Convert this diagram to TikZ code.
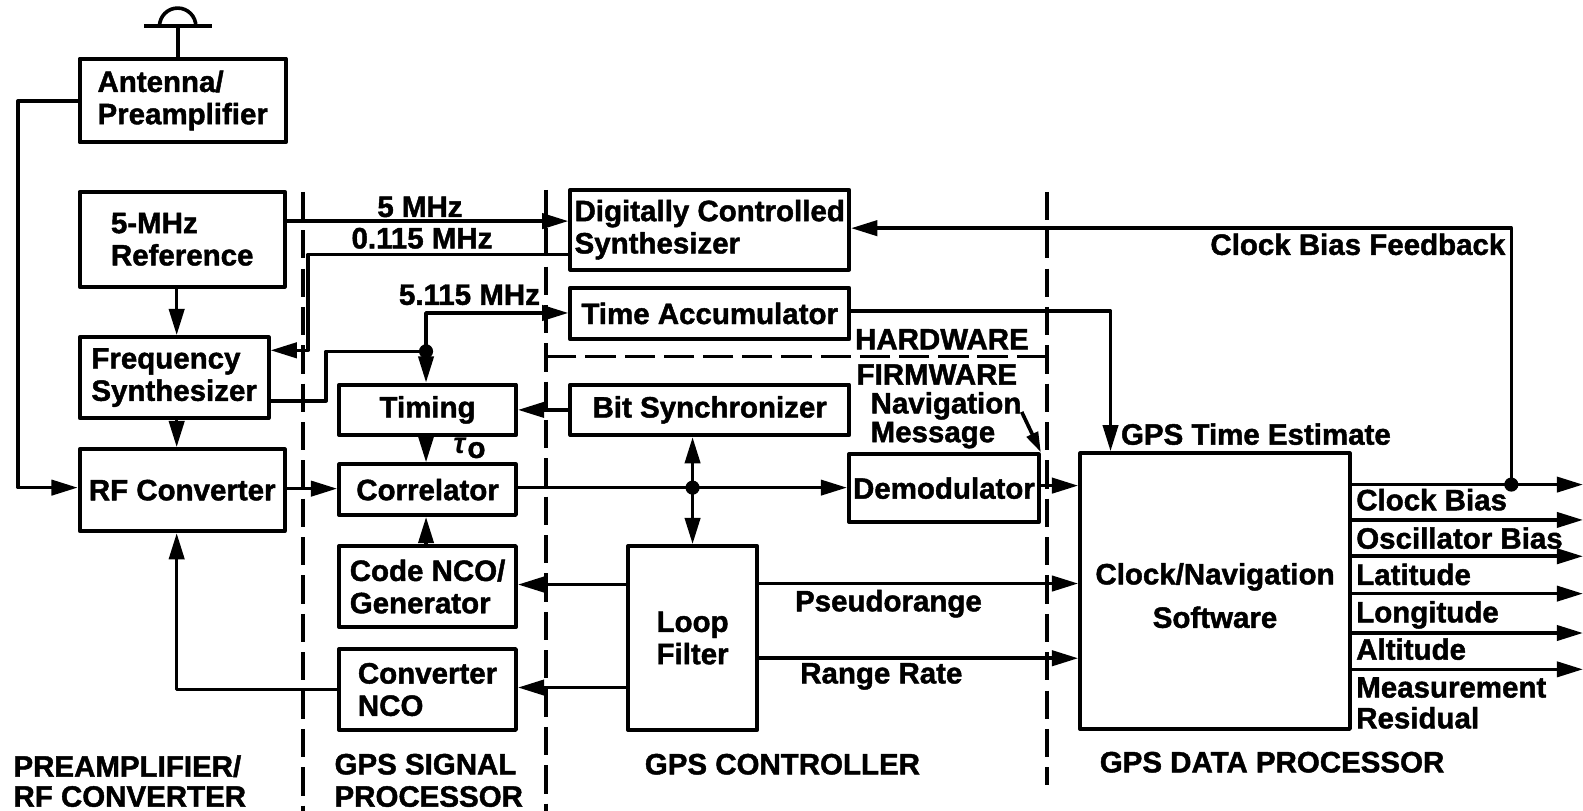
\documentclass[tikz,border=0pt]{standalone}
\usepackage{fontspec}
\setmainfont[BoldFeatures={FakeBold=1.5}]{Liberation Sans}
\usetikzlibrary{calc,arrows.meta}
\tikzset{
  blockbox/.style={draw,line width=2pt,line join=round,inner sep=0pt,align=left,font=\lbl},
  wire/.style={line width=1.8pt,line join=round},
  arr/.style={wire,-{Triangle[length=13pt,width=7.5pt]}},
  divider/.style={line width=1.8pt,dash pattern=on 14pt off 5pt},
  txt/.style={font=\lbl,inner sep=0pt,align=left}
}
\newcommand{\lbl}{\fontsize{14.6}{15}\selectfont\bfseries}
\begin{document}
\begin{tikzpicture}[x=0.5pt,y=-0.5pt]
\useasboundingbox (0,0) rectangle (1568,803);
\node[blockbox,minimum width=102pt,minimum height=41.5pt] (antenna) at (181,99.5) {Antenna/\\[1pt]Preamplifier};
\node[blockbox,minimum width=101.5pt,minimum height=47pt] (ref) at (180.5,237) {5-MHz\\[1pt]Reference};
\node[blockbox,minimum width=93.5pt,minimum height=40pt] (fsyn) at (172.5,374) {Frequency\\[1pt]Synthesizer};
\node[blockbox,minimum width=101.5pt,minimum height=40.5pt] (rfconv) at (180.5,485.5) {RF Converter};
\node[blockbox,minimum width=87.5pt,minimum height=25pt,align=center] (timing) at (423.5,406) {Timing};
\node[blockbox,minimum width=87.5pt,minimum height=25pt,align=center] (corr) at (423.5,485) {Correlator};
\node[blockbox,minimum width=87.5pt,minimum height=40pt] (codenco) at (423.5,581) {Code NCO/\\[1pt]Generator};
\node[blockbox,minimum width=87.5pt,minimum height=40pt] (convnco) at (423.5,683) {Converter\\[1pt]NCO};
\node[blockbox,minimum width=138pt,minimum height=39.5pt] (dcs) at (703,227.5) {Digitally Controlled\\[1pt]Synthesizer};
\node[blockbox,minimum width=138pt,minimum height=25.5pt] (timeacc) at (703,310.5) {Time Accumulator};
\node[blockbox,minimum width=138pt,minimum height=25pt] (bitsync) at (703,406) {Bit Synchronizer};
\node[blockbox,minimum width=64pt,minimum height=91pt,align=center] (loop) at (686,632) {Loop\\[1pt]Filter};
\node[blockbox,minimum width=94pt,minimum height=33.5pt] (demod) at (935,483.5) {Demodulator};
\node[blockbox,minimum width=133.5pt,minimum height=136.5pt,align=center] (clocknav) at (1203.5,585.5) {\rule{0pt}{15pt}Clock/Navigation\\[6.5pt]Software};
\coordinate (dish) at (176,26);
\coordinate (jrf) at (18,483);
\coordinate (jfreq) at (422,348);
\coordinate (jmid) at (686,483);
\coordinate (jbias) at (1497,480);
\draw[wire] (143,26) -- (210,26);
\draw[wire] (158,26) arc(180:360:18);
\draw[wire] (dish) -- (dish |- antenna.north);
\draw[arr] (antenna.west |- 0,100) -| (jrf) -- (rfconv.west |- jrf);
\draw[arr] (ref.south -| 175,0) -- (fsyn.north -| 175,0);
\draw[arr] (fsyn.south -| 175,0) -- (rfconv.north -| 175,0);
\draw[arr] (ref.east |- 0,219) -- (dcs.west |- 0,219);
\draw[arr] (dcs.west |- 0,252) -- (305,252) -- (305,347) -- (fsyn.east |- 0,347);
\draw[wire] (fsyn.east |- 0,397) -- (323,397) -- (323,348) -- (jfreq);
\draw[arr] (jfreq) -- (timing.north -| jfreq);
\draw[arr] (jfreq) -- (422,310) -- (timeacc.west |- 0,310);
\draw[arr] (timing.south -| jfreq) -- (corr.north -| jfreq);
\draw[arr] (bitsync.west) -- (timing.east);
\draw[arr] (rfconv.east |- 0,484) -- (corr.west |- 0,484);
\draw[arr] (corr.east |- jmid) -- (demod.west |- jmid);
\draw[arr] (jmid) -- (bitsync.south -| jmid);
\draw[arr] (jmid) -- (loop.north -| jmid);
\draw[arr] (codenco.north -| jfreq) -- (corr.south -| jfreq);
\draw[arr] (loop.west |- 0,579) -- (codenco.east |- 0,579);
\draw[arr] (loop.west |- 0,681) -- (convnco.east |- 0,681);
\draw[arr] (convnco.west) -| (rfconv.south -| 175,0);
\draw[arr] (loop.east |- 0,578) -- (clocknav.west |- 0,578);
\draw[arr] (loop.east |- 0,652) -- (clocknav.west |- 0,652);
\draw[arr] (demod.east |- 0,481) -- (clocknav.west |- 0,481);
\draw[arr] (timeacc.east |- 0,308) -| (clocknav.north -| 1100,0);
\draw[arr] (jbias) -- (1497,226) -- (dcs.east |- 0,226);
\foreach \y in {480,515,551,588,627,663}
  \draw[arr] (clocknav.east |- 0,\y) -- (1568,\y);
\fill (jfreq) circle(7);
\fill (jmid) circle(7);
\fill (jbias) circle(7);
\draw[divider] (300,190) -- (300,803);
\draw[divider] (541,188) -- (541,803);
\draw[divider] (1037,190) -- (1037,778);
\draw[line width=1.8pt,dash pattern=on 15pt off 4.417pt] (1037,353) -- (541,353);
\draw[arr,-{Triangle[length=10pt,width=6pt]}] (1012,408) -- (demod.north east);
\node[txt] (lfive) at (416,205) {5 MHz};
\node[txt] (lsmall) at (418,236) {0.115 MHz};
\node[txt] (lmix) at (465,292) {5.115 MHz};
\node[txt] (ltau) at (465,444) {{\itshape τ}\kern1pt\raisebox{-2pt}{o}};
\node[txt] (lhard) at (933,336) {HARDWARE};
\node[txt] (lfirm) at (928,371) {FIRMWARE};
\node[txt,anchor=west] (lnav) at (862,402) {Navigation};
\node[txt,anchor=west] (lmsg) at (862,431) {Message};
\node[txt] (lpseudo) at (880,598) {Pseudorange};
\node[txt] (lrate) at (873,670) {Range Rate};
\node[txt] (lfeed) at (1345,242) {Clock Bias Feedback};
\node[txt] (ltime) at (1244,430) {GPS Time Estimate};
\node[txt,anchor=west] (lbias) at (1343,495) {Clock Bias};
\node[txt,anchor=west] (losc) at (1343,533) {Oscillator Bias};
\node[txt,anchor=west] (llat) at (1343,569) {Latitude};
\node[txt,anchor=west] (llon) at (1343,609) {Longitude};
\node[txt,anchor=west] (lalt) at (1343,643) {Altitude};
\node[txt,anchor=west] (lmeas) at (1343,681) {Measurement};
\node[txt,anchor=west] (lres) at (1343,711) {Residual};
\node[txt,anchor=west] (lpre) at (13,759) {PREAMPLIFIER/};
\node[txt,anchor=west] (lrfc) at (13,789) {RF CONVERTER};
\node[txt,anchor=west] (lsig) at (331,757) {GPS SIGNAL};
\node[txt,anchor=west] (lproc) at (331,789) {PROCESSOR};
\node[txt] (lctrl) at (775,757) {GPS CONTROLLER};
\node[txt] (ldata) at (1260,755) {GPS DATA PROCESSOR};
\end{tikzpicture}
\end{document}
